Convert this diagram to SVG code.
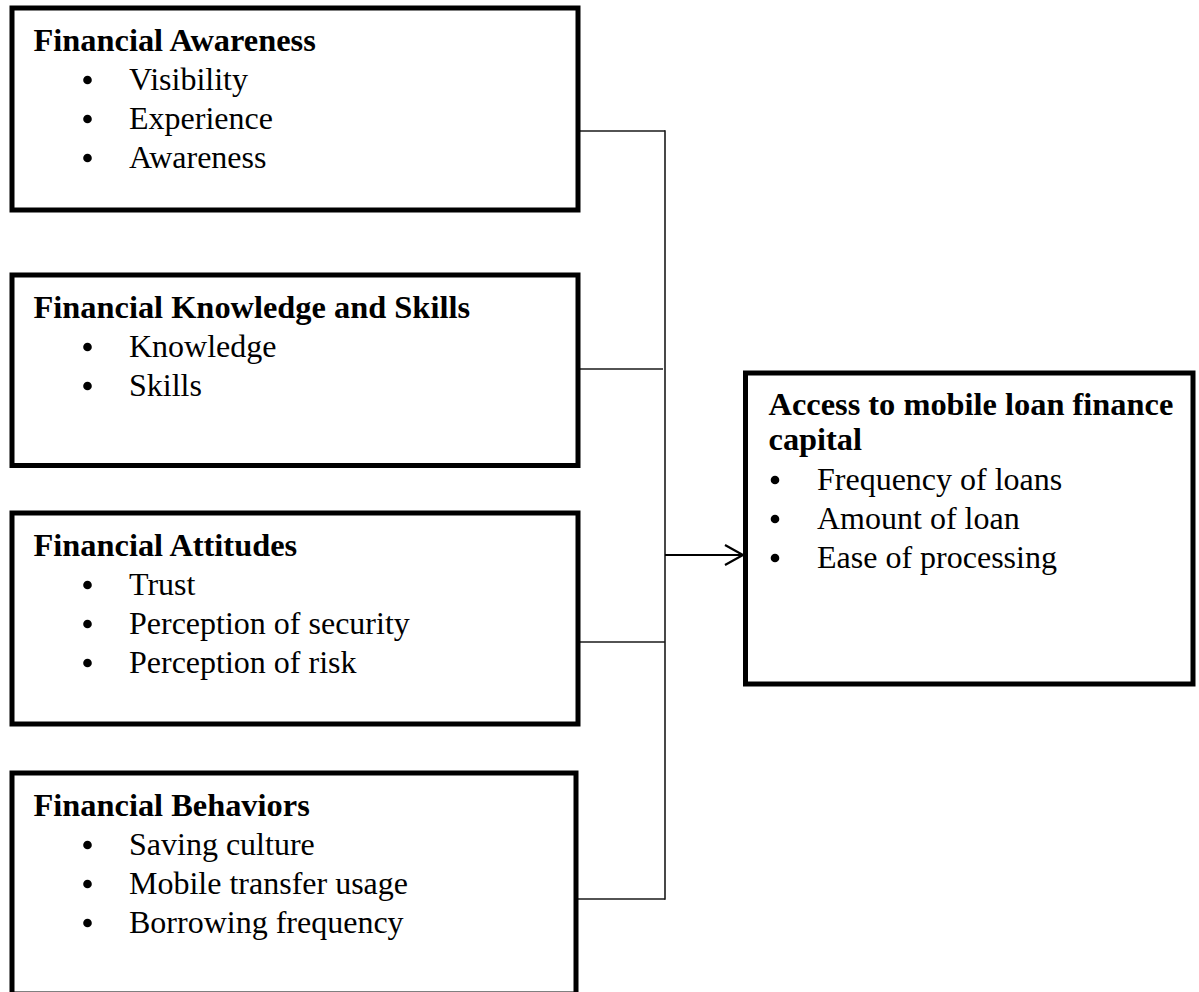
<svg xmlns="http://www.w3.org/2000/svg" width="1199" height="992" viewBox="0 0 1199 992">
<style>
.box{fill:#fff;stroke:#000;stroke-width:5}
.t{font-family:"Liberation Serif","Times New Roman",serif;font-size:32px;fill:#000}
.b{font-weight:bold;font-size:32.4px}
.dot{fill:#000}
.con{stroke:#1a1a1a;stroke-width:1.6;fill:none}
</style>
<defs>
<marker id="arr" markerWidth="24" markerHeight="24" refX="19" refY="11" orient="auto" markerUnits="userSpaceOnUse">
<path d="M1,1 L19,11 L1,21" fill="none" stroke="#000" stroke-width="2.2"/>
</marker>
</defs>
<rect width="1199" height="992" fill="#fff"/>
<g id="connectors">
<line class="con" x1="580" y1="131" x2="665" y2="131"/>
<line class="con" x1="580" y1="369" x2="663" y2="369"/>
<line class="con" x1="580" y1="642" x2="665" y2="642"/>
<line class="con" x1="578" y1="899" x2="665" y2="899"/>
<line class="con" x1="665" y1="130.2" x2="665" y2="899.8"/>
<line x1="665" y1="555" x2="743" y2="555" stroke="#000" stroke-width="2.2" marker-end="url(#arr)"/>
</g>
<g id="awareness">
<rect class="box" x="12" y="8" width="566" height="202"/>
<text class="t b" x="33.5" y="51">Financial Awareness</text>
<circle class="dot" cx="87.5" cy="80" r="4.3"/><text class="t" x="129" y="90">Visibility</text>
<circle class="dot" cx="87.5" cy="119" r="4.3"/><text class="t" x="129" y="129">Experience</text>
<circle class="dot" cx="87.5" cy="158" r="4.3"/><text class="t" x="129" y="168">Awareness</text>
</g>
<g id="knowledge">
<rect class="box" x="12" y="275" width="566" height="190.5"/>
<text class="t b" x="33.5" y="318">Financial Knowledge and Skills</text>
<circle class="dot" cx="87.5" cy="347" r="4.3"/><text class="t" x="129" y="357">Knowledge</text>
<circle class="dot" cx="87.5" cy="386" r="4.3"/><text class="t" x="129" y="396">Skills</text>
</g>
<g id="attitudes">
<rect class="box" x="12" y="513" width="566" height="211"/>
<text class="t b" x="33.5" y="556">Financial Attitudes</text>
<circle class="dot" cx="87.5" cy="585" r="4.3"/><text class="t" x="129" y="595">Trust</text>
<circle class="dot" cx="87.5" cy="624" r="4.3"/><text class="t" x="129" y="634">Perception of security</text>
<circle class="dot" cx="87.5" cy="663" r="4.3"/><text class="t" x="129" y="673">Perception of risk</text>
</g>
<g id="behaviors">
<rect class="box" x="12" y="773" width="564" height="221"/>
<text class="t b" x="33.5" y="816">Financial Behaviors</text>
<circle class="dot" cx="87.5" cy="845" r="4.3"/><text class="t" x="129" y="855">Saving culture</text>
<circle class="dot" cx="87.5" cy="884" r="4.3"/><text class="t" x="129" y="894">Mobile transfer usage</text>
<circle class="dot" cx="87.5" cy="923" r="4.3"/><text class="t" x="129" y="933">Borrowing frequency</text>
</g>
<g id="access">
<rect class="box" x="745.5" y="373" width="447.5" height="311"/>
<text class="t b" x="768.5" y="415">Access to mobile loan finance</text>
<text class="t b" x="768.5" y="450">capital</text>
<circle class="dot" cx="775" cy="480" r="4.3"/><text class="t" x="817" y="490">Frequency of loans</text>
<circle class="dot" cx="775" cy="519" r="4.3"/><text class="t" x="817" y="529">Amount of loan</text>
<circle class="dot" cx="775" cy="558" r="4.3"/><text class="t" x="817" y="568">Ease of processing</text>
</g>
</svg>
